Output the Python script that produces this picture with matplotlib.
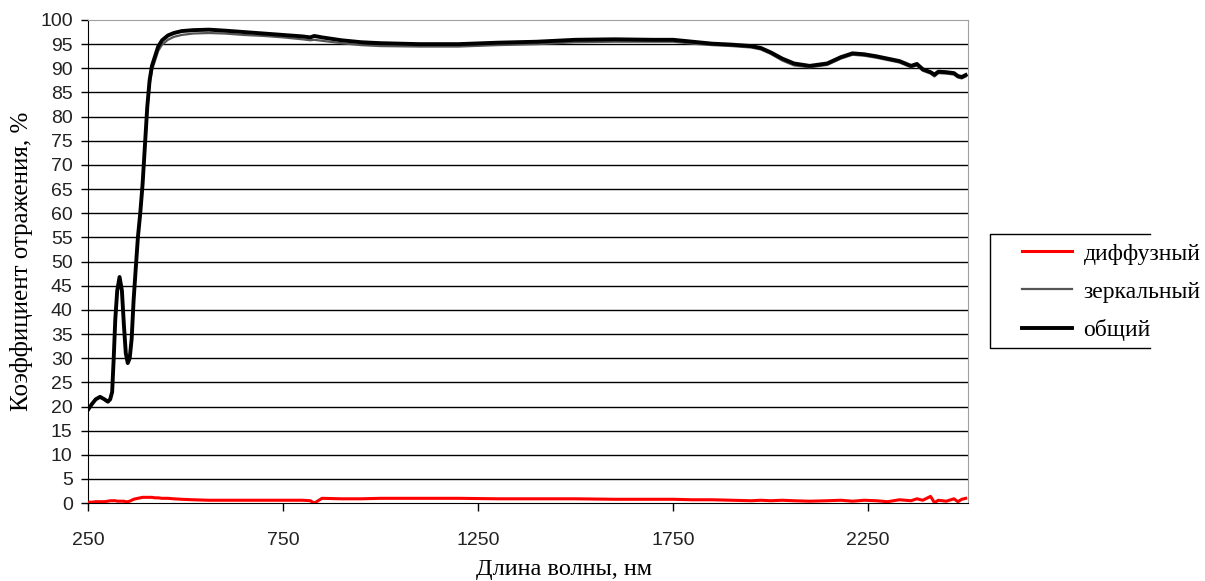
import matplotlib
matplotlib.use('Agg')
import matplotlib.pyplot as plt
from matplotlib.lines import Line2D

# wavelength grid, nm
wl = [250, 260, 270, 281, 292, 301, 307, 312, 316, 320, 325, 331, 337, 342,
      347, 352, 357, 362, 367, 372, 378, 384, 390, 396, 402, 408, 414, 422,
      430, 440, 455, 470, 490, 520, 560, 600, 650, 700, 750, 800, 820, 830,
      850, 900, 950, 1000, 1100, 1200, 1300, 1400, 1450, 1500, 1600, 1700,
      1750, 1800, 1850, 1900, 1950, 1975, 2000, 2030, 2060, 2100, 2145, 2180,
      2210, 2240, 2270, 2300, 2330, 2360, 2375, 2390, 2410, 2420, 2430, 2450,
      2470, 2480, 2490, 2500]

# total reflectance (общий)
total = [19.3, 20.5, 21.5, 22.0, 21.5, 21.0, 21.5, 23.0, 30.0, 38.0, 44.0,
         46.8, 44.0, 37.0, 31.0, 29.0, 30.0, 34.0, 42.0, 48.0, 55.0, 60.0,
         66.0, 74.0, 82.0, 87.5, 90.5, 92.5, 94.5, 95.8, 96.8, 97.3, 97.7,
         97.9, 98.0, 97.8, 97.5, 97.2, 96.9, 96.6, 96.4, 96.7, 96.4, 95.8,
         95.4, 95.2, 95.0, 95.0, 95.3, 95.5, 95.7, 95.9, 96.0, 95.9, 95.9,
         95.5, 95.1, 94.9, 94.6, 94.2, 93.3, 92.0, 91.0, 90.5, 91.0, 92.3,
         93.1, 92.9, 92.5, 92.0, 91.5, 90.5, 90.9, 89.8, 89.2, 88.7, 89.3,
         89.2, 89.0, 88.4, 88.2, 88.6]

# specular reflectance (зеркальный)
specular = [19.3, 20.5, 21.5, 22.0, 21.5, 21.0, 21.5, 23.0, 30.0, 38.0, 44.0,
            46.6, 43.8, 36.8, 30.9, 28.9, 29.9, 33.8, 41.8, 47.7, 54.6, 59.5,
            65.4, 73.3, 81.2, 86.6, 89.6, 91.6, 93.6, 94.9, 95.9, 96.5, 96.9,
            97.2, 97.3, 97.2, 96.9, 96.7, 96.4, 96.0, 95.8, 95.9, 95.7, 95.2,
            94.8, 94.6, 94.5, 94.5, 94.8, 95.0, 95.2, 95.4, 95.5, 95.5, 95.5,
            95.1, 94.8, 94.6, 94.3, 93.9, 93.0, 91.6, 90.6, 90.2, 90.7, 92.0,
            92.8, 92.6, 92.2, 91.7, 91.2, 90.2, 90.6, 89.5, 88.9, 88.3, 89.0,
            88.9, 88.7, 88.1, 87.9, 88.3]

# diffuse reflectance (диффузный)
diffuse = [0.2, 0.2, 0.3, 0.3, 0.3, 0.4, 0.5, 0.5, 0.5, 0.5, 0.4, 0.4, 0.4,
           0.4, 0.3, 0.3, 0.4, 0.6, 0.8, 0.9, 1.0, 1.1, 1.2, 1.2, 1.2, 1.2,
           1.2, 1.1, 1.1, 1.0, 1.0, 0.9, 0.8, 0.7, 0.6, 0.6, 0.6, 0.6, 0.6,
           0.6, 0.5, 0.0, 1.0, 0.9, 0.9, 1.0, 1.0, 1.0, 0.9, 0.9, 0.9, 0.9,
           0.8, 0.8, 0.8, 0.7, 0.7, 0.6, 0.5, 0.6, 0.5, 0.6, 0.5, 0.4, 0.5,
           0.6, 0.4, 0.6, 0.5, 0.3, 0.7, 0.5, 0.9, 0.6, 1.4, 0.1, 0.6, 0.4,
           0.9, 0.3, 0.8, 1.0]

labels = ['диффузный', 'зеркальный', 'общий']
xticks = [250, 750, 1250, 1750, 2250]
yticks = list(range(0, 101, 5))

fig = plt.figure(figsize=(12.05, 5.81), dpi=100)
ax = fig.add_axes([0.073, 0.134, 0.730, 0.8316])

for y in yticks[1:-1]:
    ax.axhline(y, color='black', lw=1.0, zorder=1)

l1, = ax.plot(wl, diffuse, color='#ff0000', lw=2.2, zorder=3)
l2, = ax.plot(wl, specular, color='#555555', lw=1.6, zorder=3)
l3, = ax.plot(wl, total, color='black', lw=2.8, zorder=4)

ax.set_xlim(250, 2505)
ax.set_ylim(0, 100)
ax.set_xticks(xticks)
ax.set_yticks(yticks)
ax.tick_params(axis='x', direction='out', length=6, width=1, pad=15,
               labelsize=14, labelcolor='#222222')
ax.tick_params(axis='y', direction='out', length=5, width=1, pad=6,
               labelsize=14, labelcolor='#222222')
for lab in ax.get_xticklabels() + ax.get_yticklabels():
    lab.set_fontfamily('Liberation Sans')

for s in ['top', 'right']:
    ax.spines[s].set_color('#a0a0a0')
ax.spines['left'].set_color('black')
ax.spines['bottom'].set_color('black')

ax.set_xlabel('Длина волны, нм', family='Liberation Serif', fontsize=17.5,
              labelpad=8)
ax.xaxis.set_label_coords(0.541, -0.115)
ax.set_ylabel('Коэффициент отражения, %', family='Liberation Serif',
              fontsize=18, labelpad=5)

leg = fig.legend([l1, l2, l3], labels, loc='upper left',
                 bbox_to_anchor=(1022 / 1205, 1 - 243 / 581), frameon=False,
                 prop={'family': 'Liberation Serif', 'size': 17},
                 handlelength=2.1, handletextpad=0.5, labelspacing=0.70,
                 borderaxespad=0, borderpad=0)
leg.get_lines()[1].set_linewidth(1.6)

# clipped legend box (left, top, bottom edges only)
bx0, bx1 = 990 / 1205, 1150 / 1205
by0, by1 = 1 - 348 / 581, 1 - 234 / 581
fig.add_artist(Line2D([bx1, bx0, bx0, bx1], [by1, by1, by0, by0],
                      transform=fig.transFigure, color='black', lw=1.0))

fig.savefig('out.png', dpi=100)
